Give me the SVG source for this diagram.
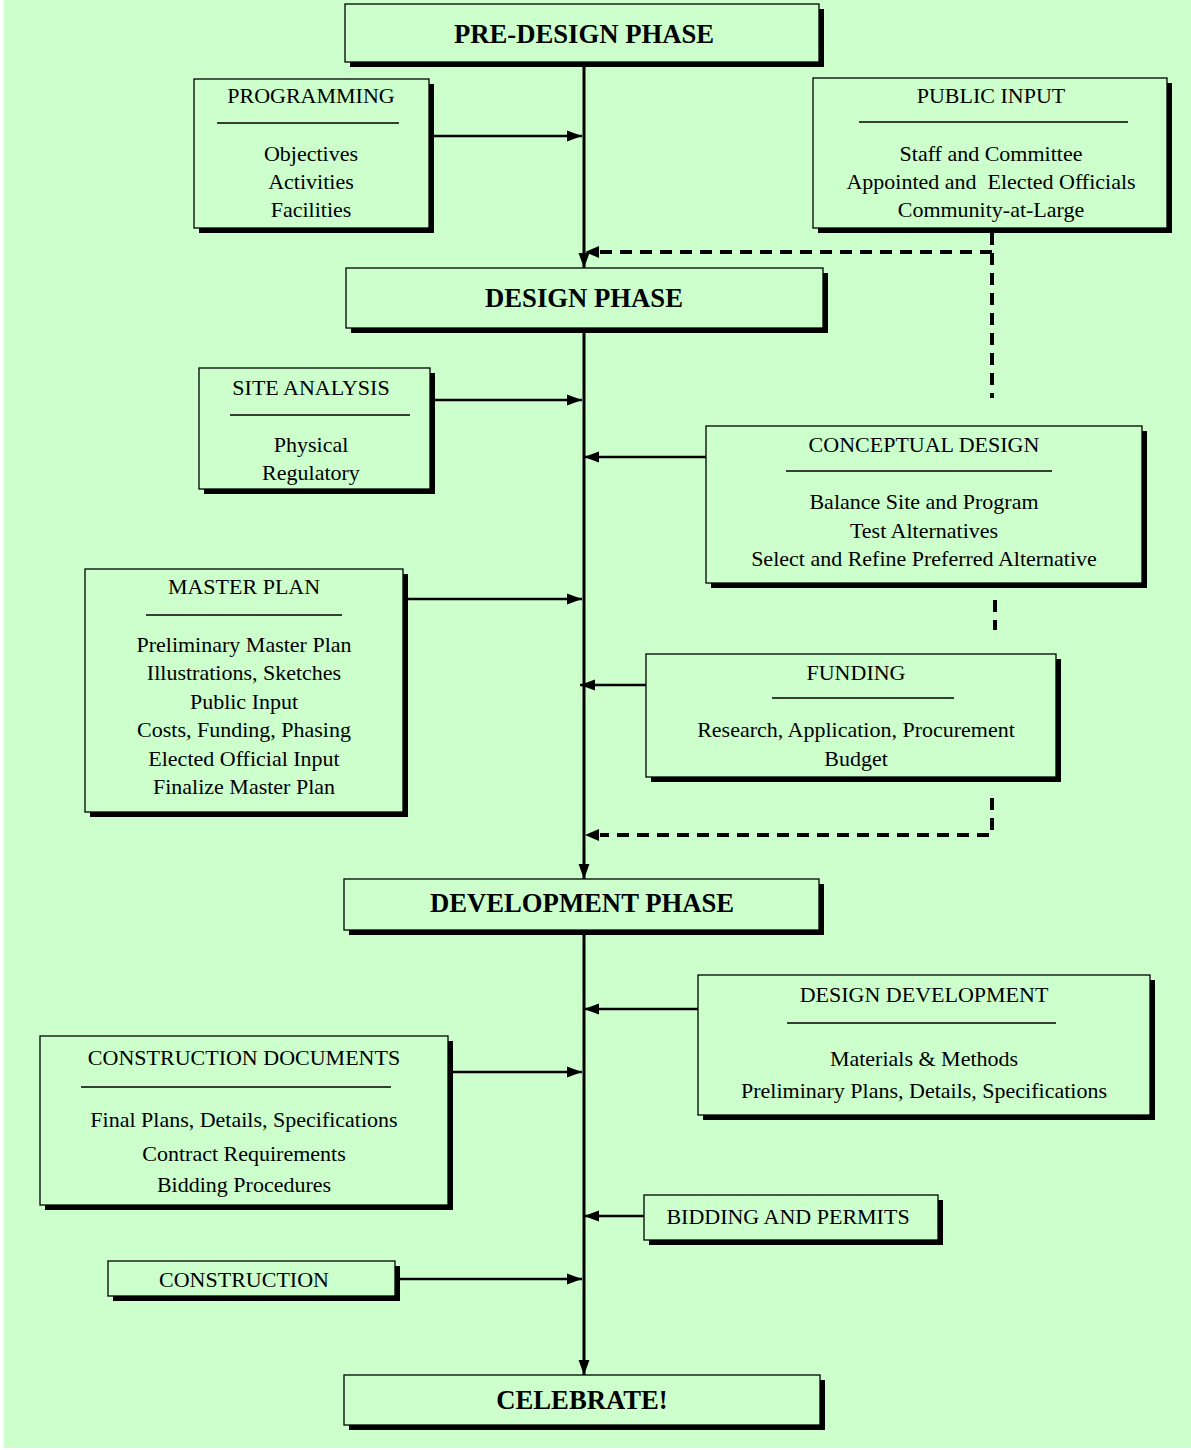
<svg xmlns="http://www.w3.org/2000/svg" width="1191" height="1450" viewBox="0 0 1191 1450">
<style>
.bg{fill:#ccffcc}
.sh{fill:#000}
.bx{fill:#ccffcc;stroke:#000;stroke-width:1.3}
.sep{stroke:#000;stroke-width:1.5}
.t{font-family:"Liberation Serif","Times New Roman",serif;font-size:22px;fill:#000;text-anchor:middle}
.b{font-family:"Liberation Serif","Times New Roman",serif;font-size:26.7px;font-weight:bold;fill:#000;text-anchor:middle}
.ln{fill:none;stroke:#000;stroke-width:2.6}
.main{fill:none;stroke:#000;stroke-width:3}
.dash{fill:none;stroke:#000;stroke-width:4;stroke-dasharray:12 8}
</style>
<defs>
<marker id="ah" markerUnits="userSpaceOnUse" markerWidth="16" markerHeight="12" refX="15" refY="6" orient="auto">
<path d="M0,0.5 L15,6 L0,11.5 Z" fill="#000"/>
</marker>
</defs>
<rect x="0" y="0" width="1191" height="1450" fill="#fff"/>
<rect class="bg" x="4" y="0" width="1187" height="1448"/>

<g id="connectors">
<path class="main" d="M584,62 V268" marker-end="url(#ah)"/>
<path class="main" d="M584,328 V879" marker-end="url(#ah)"/>
<path class="main" d="M584,930 V1375" marker-end="url(#ah)"/>
<path class="ln" d="M429,136 H582" marker-end="url(#ah)"/>
<path class="ln" d="M435,400 H582" marker-end="url(#ah)"/>
<path class="ln" d="M706,457 H584" marker-end="url(#ah)"/>
<path class="ln" d="M403,599 H582" marker-end="url(#ah)"/>
<path class="ln" d="M646,685 H580" marker-end="url(#ah)"/>
<path class="ln" d="M698,1009 H584" marker-end="url(#ah)"/>
<path class="ln" d="M448,1072 H582" marker-end="url(#ah)"/>
<path class="ln" d="M644,1216 H584" marker-end="url(#ah)"/>
<path class="ln" d="M395,1279 H582" marker-end="url(#ah)"/>
<path class="dash" d="M992,233 V398"/>
<path class="dash" d="M992,252 H600"/>
<path d="M599,246 L585,252 L599,258 Z" fill="#000"/>
<path class="dash" d="M995,600 V630"/>
<path class="dash" d="M992,798 V835 H600"/>
<path d="M599,829 L585,835 L599,841 Z" fill="#000"/>
</g>

<g id="pre-design">
<rect class="sh" x="350" y="9" width="474" height="58"/>
<rect class="bx" x="345" y="4" width="474" height="58"/>
<text class="b" x="584" y="43">PRE-DESIGN PHASE</text>
</g>

<g id="programming">
<rect class="sh" x="199" y="84" width="235" height="149"/>
<rect class="bx" x="194" y="79" width="235" height="149"/>
<text class="t" x="311" y="103">PROGRAMMING</text>
<line class="sep" x1="217" y1="123" x2="399" y2="123"/>
<text class="t" x="311" y="161">Objectives</text>
<text class="t" x="311" y="189">Activities</text>
<text class="t" x="311" y="217">Facilities</text>
</g>

<g id="public-input">
<rect class="sh" x="818" y="83" width="354" height="150"/>
<rect class="bx" x="813" y="78" width="354" height="150"/>
<text class="t" x="991" y="103">PUBLIC INPUT</text>
<line class="sep" x1="859" y1="122" x2="1128" y2="122"/>
<text class="t" x="991" y="161">Staff and Committee</text>
<text class="t" x="991" y="189" xml:space="preserve">Appointed and  Elected Officials</text>
<text class="t" x="991" y="217">Community-at-Large</text>
</g>

<g id="design-phase">
<rect class="sh" x="351" y="273" width="477" height="60"/>
<rect class="bx" x="346" y="268" width="477" height="60"/>
<text class="b" x="584" y="307">DESIGN PHASE</text>
</g>

<g id="site-analysis">
<rect class="sh" x="204" y="373" width="231" height="121"/>
<rect class="bx" x="199" y="368" width="231" height="121"/>
<text class="t" x="311" y="395">SITE ANALYSIS</text>
<line class="sep" x1="230" y1="415" x2="410" y2="415"/>
<text class="t" x="311" y="452">Physical</text>
<text class="t" x="311" y="480">Regulatory</text>
</g>

<g id="conceptual-design">
<rect class="sh" x="711" y="431" width="436" height="157"/>
<rect class="bx" x="706" y="426" width="436" height="157"/>
<text class="t" x="924" y="452">CONCEPTUAL DESIGN</text>
<line class="sep" x1="786" y1="471" x2="1052" y2="471"/>
<text class="t" x="924" y="509">Balance Site and Program</text>
<text class="t" x="924" y="538">Test Alternatives</text>
<text class="t" x="924" y="566">Select and Refine Preferred Alternative</text>
</g>

<g id="master-plan">
<rect class="sh" x="90" y="574" width="318" height="243"/>
<rect class="bx" x="85" y="569" width="318" height="243"/>
<text class="t" x="244" y="594">MASTER PLAN</text>
<line class="sep" x1="146" y1="615" x2="342" y2="615"/>
<text class="t" x="244" y="652">Preliminary Master Plan</text>
<text class="t" x="244" y="680">Illustrations, Sketches</text>
<text class="t" x="244" y="709">Public Input</text>
<text class="t" x="244" y="737">Costs, Funding, Phasing</text>
<text class="t" x="244" y="766">Elected Official Input</text>
<text class="t" x="244" y="794">Finalize Master Plan</text>
</g>

<g id="funding">
<rect class="sh" x="651" y="659" width="410" height="123"/>
<rect class="bx" x="646" y="654" width="410" height="123"/>
<text class="t" x="856" y="680">FUNDING</text>
<line class="sep" x1="772" y1="698" x2="954" y2="698"/>
<text class="t" x="856" y="737">Research, Application, Procurement</text>
<text class="t" x="856" y="766">Budget</text>
</g>

<g id="development-phase">
<rect class="sh" x="349" y="884" width="475" height="51"/>
<rect class="bx" x="344" y="879" width="475" height="51"/>
<text class="b" x="582" y="912">DEVELOPMENT PHASE</text>
</g>

<g id="design-development">
<rect class="sh" x="703" y="980" width="452" height="140"/>
<rect class="bx" x="698" y="975" width="452" height="140"/>
<text class="t" x="924" y="1002">DESIGN DEVELOPMENT</text>
<line class="sep" x1="787" y1="1023" x2="1056" y2="1023"/>
<text class="t" x="924" y="1066">Materials &amp; Methods</text>
<text class="t" x="924" y="1098">Preliminary Plans, Details, Specifications</text>
</g>

<g id="construction-documents">
<rect class="sh" x="45" y="1041" width="408" height="169"/>
<rect class="bx" x="40" y="1036" width="408" height="169"/>
<text class="t" x="244" y="1065">CONSTRUCTION DOCUMENTS</text>
<line class="sep" x1="81" y1="1087" x2="391" y2="1087"/>
<text class="t" x="244" y="1127">Final Plans, Details, Specifications</text>
<text class="t" x="244" y="1161">Contract Requirements</text>
<text class="t" x="244" y="1192">Bidding Procedures</text>
</g>

<g id="bidding-permits">
<rect class="sh" x="649" y="1200" width="294" height="45"/>
<rect class="bx" x="644" y="1195" width="294" height="45"/>
<text class="t" x="788" y="1224">BIDDING AND PERMITS</text>
</g>

<g id="construction">
<rect class="sh" x="113" y="1266" width="287" height="35"/>
<rect class="bx" x="108" y="1261" width="287" height="35"/>
<text class="t" x="244" y="1287">CONSTRUCTION</text>
</g>

<g id="celebrate">
<rect class="sh" x="349" y="1380" width="476" height="50"/>
<rect class="bx" x="344" y="1375" width="476" height="50"/>
<text class="b" x="582" y="1409">CELEBRATE!</text>
</g>
</svg>
